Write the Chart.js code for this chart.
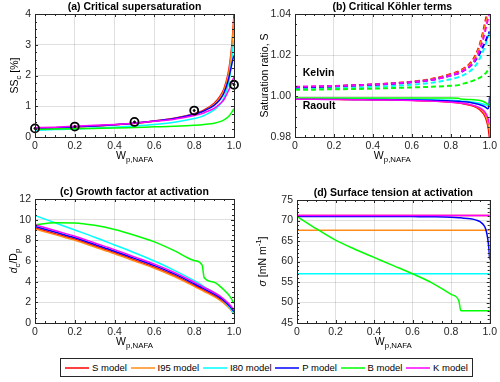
<!DOCTYPE html>
<html>
<head>
<meta charset="utf-8">
<script src="https://cdn.jsdelivr.net/npm/chart.js@4.4.1/dist/chart.umd.min.js"></script>
<style>
  body { margin: 0; background: #fff; font-family: "Liberation Sans", Arial, sans-serif; }
  #fig { position: relative; width: 500px; height: 382px; overflow: hidden; }
  #fig canvas { position: absolute; }
  #legend { position: absolute; left: 60px; top: 358px; width: 413px; height: 19px; box-sizing: border-box;
            border: 1px solid #262626; display: flex; align-items: center; justify-content: space-between;
            padding: 0 4px; font-size: 9.5px; color: #000; }
  #legend .item { display: flex; align-items: center; white-space: nowrap; }
  #legend svg { margin-right: 3px; }
</style>
</head>
<body>
<div id="fig">
  <canvas id="pa" width="250" height="170" style="left:0;top:0"></canvas>
  <canvas id="pb" width="250" height="170" style="left:250px;top:0"></canvas>
  <canvas id="pc" width="250" height="185" style="left:0;top:170px"></canvas>
  <canvas id="pd" width="250" height="185" style="left:250px;top:170px"></canvas>
  <div id="legend"></div>
</div>
<script>
// x values (particle mass fraction of NAFA)
const wp = [0, 0.1, 0.2, 0.3, 0.4, 0.5, 0.6, 0.7, 0.8, 0.84, 0.85, 0.9, 0.93, 0.95, 0.97, 0.98, 0.99, 0.995, 1];

const models = ['S model', 'I95 model', 'I80 model', 'P model', 'B model', 'K model'];
const modelColors = ['#ff0000', '#ff8c1a', '#00ffff', '#0000ff', '#00ff00', '#ff00ff'];

// (a) critical supersaturation [%]
const sscS   = [0.28, 0.30, 0.33, 0.36, 0.40, 0.45, 0.52, 0.61, 0.76, 0.85, 0.88, 1.10, 1.33, 1.58, 2.05, 2.45, 3.05, 3.50, 4.00];
const sscI95 = [0.27, 0.29, 0.32, 0.35, 0.39, 0.44, 0.51, 0.60, 0.74, 0.82, 0.85, 1.06, 1.28, 1.52, 1.97, 2.35, 2.95, 3.40, 3.85];
const sscI80 = [0.22, 0.24, 0.26, 0.29, 0.32, 0.36, 0.41, 0.48, 0.60, 0.67, 0.70, 0.88, 1.06, 1.28, 1.68, 2.02, 2.55, 2.90, 3.15];
const sscP   = [0.28, 0.30, 0.33, 0.36, 0.40, 0.45, 0.52, 0.60, 0.74, 0.82, 0.85, 1.03, 1.22, 1.44, 1.82, 2.10, 2.40, 2.55, 2.65];
const sscB   = [0.25, 0.26, 0.27, 0.28, 0.29, 0.31, 0.33, 0.35, 0.38, 0.40, 0.41, 0.45, 0.50, 0.56, 0.65, 0.72, 0.82, 0.87, 0.92];
const sscK   = [0.30, 0.32, 0.35, 0.38, 0.41, 0.45, 0.51, 0.58, 0.70, 0.76, 0.79, 0.93, 1.08, 1.22, 1.48, 1.62, 1.80, 1.88, 1.95];
const obsWp  = [0, 0.2, 0.5, 0.8, 1];
const obsSsc = [0.28, 0.34, 0.49, 0.86, 1.70];

// (b) Kelvin (dashed) and Raoult (solid) terms at the critical point
const kelS   = [1.0043, 1.0045, 1.0048, 1.0052, 1.0056, 1.0062, 1.0070, 1.0083, 1.0107, 1.0120, 1.0125, 1.0160, 1.0205, 1.0255, 1.0330, 1.0375, 1.0410, 1.0430, 1.0450];
const kelI95 = [1.0042, 1.0044, 1.0047, 1.0051, 1.0055, 1.0061, 1.0069, 1.0081, 1.0104, 1.0116, 1.0121, 1.0154, 1.0196, 1.0244, 1.0315, 1.0355, 1.0390, 1.0405, 1.0420];
const kelI80 = [1.0034, 1.0036, 1.0038, 1.0041, 1.0045, 1.0049, 1.0055, 1.0064, 1.0082, 1.0092, 1.0095, 1.0122, 1.0152, 1.0185, 1.0228, 1.0255, 1.0285, 1.0295, 1.0305];
const kelP   = [1.0042, 1.0044, 1.0047, 1.0051, 1.0055, 1.0060, 1.0067, 1.0078, 1.0100, 1.0111, 1.0115, 1.0145, 1.0178, 1.0210, 1.0250, 1.0270, 1.0295, 1.0305, 1.0315];
const kelB   = [1.0030, 1.0031, 1.0033, 1.0034, 1.0036, 1.0039, 1.0042, 1.0045, 1.0050, 1.0053, 1.0056, 1.0070, 1.0081, 1.0090, 1.0103, 1.0112, 1.0125, 1.0133, 1.0140];
const kelK   = [1.0045, 1.0047, 1.0049, 1.0052, 1.0056, 1.0061, 1.0068, 1.0078, 1.0100, 1.0112, 1.0116, 1.0148, 1.0185, 1.0228, 1.0290, 1.0330, 1.0370, 1.0385, 1.0400];
const raoS   = [0.9985, 0.9985, 0.9984, 0.9983, 0.9982, 0.9981, 0.9979, 0.9976, 0.9970, 0.9966, 0.9964, 0.9955, 0.9945, 0.9932, 0.9910, 0.9890, 0.9855, 0.9825, 0.9780];
const raoI95 = [0.9985, 0.9985, 0.9984, 0.9983, 0.9982, 0.9981, 0.9979, 0.9976, 0.9971, 0.9967, 0.9966, 0.9958, 0.9949, 0.9938, 0.9920, 0.9903, 0.9875, 0.9850, 0.9830];
const raoI80 = [0.9986, 0.9986, 0.9986, 0.9985, 0.9985, 0.9984, 0.9983, 0.9982, 0.9979, 0.9977, 0.9976, 0.9972, 0.9968, 0.9965, 0.9960, 0.9957, 0.9955, 0.9956, 0.9960];
const raoP   = [0.9985, 0.9985, 0.9984, 0.9983, 0.9983, 0.9982, 0.9981, 0.9979, 0.9976, 0.9974, 0.9973, 0.9968, 0.9962, 0.9957, 0.9950, 0.9945, 0.9938, 0.9945, 1.0000];
const raoB   = [0.9990, 0.9990, 0.9990, 0.9990, 0.9990, 0.9990, 0.9990, 0.9990, 0.9990, 0.9989, 0.9985, 0.9983, 0.9981, 0.9978, 0.9972, 0.9967, 0.9960, 0.9958, 0.9962];
const raoK   = [0.9984, 0.9984, 0.9983, 0.9982, 0.9981, 0.9980, 0.9978, 0.9975, 0.9970, 0.9967, 0.9966, 0.9958, 0.9950, 0.9942, 0.9928, 0.9915, 0.9895, 0.9878, 0.9860];

// (c) growth factor at activation, dc/Dp
const gfS   = [9.20, 8.65, 8.10, 7.45, 6.80, 6.10, 5.40, 4.60, 3.65, 3.25, 3.15, 2.65, 2.30, 2.00, 1.65, 1.45, 1.20, 1.05, 0.95];
const gfI95 = [9.10, 8.55, 8.00, 7.35, 6.70, 6.00, 5.30, 4.50, 3.55, 3.15, 3.05, 2.55, 2.20, 1.90, 1.55, 1.35, 1.10, 0.98, 0.88];
const gfI80 = [10.40, 9.70, 9.00, 8.30, 7.55, 6.80, 6.00, 5.10, 4.10, 3.65, 3.50, 2.95, 2.50, 2.15, 1.70, 1.45, 1.20, 1.05, 0.90];
const gfP   = [9.35, 8.80, 8.25, 7.60, 6.95, 6.25, 5.55, 4.75, 3.80, 3.40, 3.30, 2.80, 2.45, 2.15, 1.80, 1.60, 1.35, 1.22, 1.10];
const gfB   = [9.50, 9.70, 9.68, 9.45, 9.05, 8.50, 7.85, 7.00, 6.05, 5.60, 4.40, 3.95, 3.55, 3.20, 2.80, 2.55, 2.25, 2.05, 1.90];
const gfK   = [9.50, 8.95, 8.40, 7.75, 7.10, 6.40, 5.70, 4.90, 3.95, 3.55, 3.45, 2.95, 2.60, 2.30, 1.95, 1.75, 1.50, 1.38, 1.25];

// (d) surface tension at activation [mN m-1]
const stS   = [71.2, 71.2, 71.2, 71.2, 71.2, 71.2, 71.2, 71.2, 71.2, 71.2, 71.2, 71.2, 71.2, 71.2, 71.2, 71.2, 71.2, 71.2, 71.2];
const stI95 = [67.6, 67.6, 67.6, 67.6, 67.6, 67.6, 67.6, 67.6, 67.6, 67.6, 67.6, 67.6, 67.6, 67.6, 67.6, 67.6, 67.6, 67.6, 67.6];
const stI80 = [57.0, 57.0, 57.0, 57.0, 57.0, 57.0, 57.0, 57.0, 57.0, 57.0, 57.0, 57.0, 57.0, 57.0, 57.0, 57.0, 57.0, 57.0, 57.0];
const stP   = [71.0, 71.0, 71.0, 71.0, 71.0, 71.0, 70.95, 70.9, 70.8, 70.7, 70.65, 70.4, 70.1, 69.7, 68.8, 67.8, 65.5, 63.5, 60.5];
const stB   = [71.0, 68.0, 65.2, 63.0, 61.0, 59.0, 57.0, 54.8, 52.0, 50.4, 48.0, 48.0, 48.0, 48.0, 48.0, 48.0, 48.0, 48.0, 48.0];
const stK   = [71.2, 71.2, 71.2, 71.2, 71.2, 71.2, 71.2, 71.2, 71.2, 71.2, 71.2, 71.2, 71.2, 71.2, 71.2, 71.2, 71.2, 71.2, 71.2];

const FONT = '"Liberation Sans", Arial, Helvetica, sans-serif';
const INK = '#262626';

function pts(xs, ys) { return xs.map((x, i) => ({ x: x, y: ys[i] })); }

function lines(series, extra) {
  // reversed so that the K model ends up drawn on top, like MATLAB
  return series.map((ys, i) => Object.assign({
    label: models[i], data: pts(wp, ys), borderColor: modelColors[i],
    borderWidth: 1.5, pointRadius: 0, fill: false, cubicInterpolationMode: 'monotone'
  }, extra || {})).reverse();
}

function setFont(ctx, size, bold, italic) {
  ctx.font = (italic ? 'italic ' : '') + (bold ? 'bold ' : '') + size + 'px ' + FONT;
}

// text with sub/superscripts, centred at (x,y), optionally rotated
function drawRich(ctx, parts, x, y, rot, size, bold) {
  const sz = p => (p.sub || p.sup) ? size * 0.75 : size;
  let total = 0;
  parts.forEach(p => { setFont(ctx, sz(p), bold, p.it); total += ctx.measureText(p.t).width; });
  ctx.save();
  ctx.translate(x, y);
  ctx.rotate(rot || 0);
  ctx.textBaseline = 'middle';
  ctx.textAlign = 'left';
  ctx.fillStyle = '#000';
  let cx = -total / 2;
  parts.forEach(p => {
    setFont(ctx, sz(p), bold, p.it);
    const dy = p.sub ? size * 0.35 : (p.sup ? -size * 0.4 : 0);
    ctx.fillText(p.t, cx, dy);
    cx += ctx.measureText(p.t).width;
  });
  ctx.restore();
}

function tickList(min, max, minor, major) {
  const n = Math.round((max - min) / minor);
  const out = [];
  for (let i = 0; i <= n; i++) {
    const v = min + i * minor;
    const r = (v - min) / major;
    out.push([v, Math.abs(r - Math.round(r)) < 1e-6]);
  }
  return out;
}

function framePlugin(cfg) {
  return {
    id: 'frame',
    afterDraw(chart) {
      const ctx = chart.ctx, a = chart.chartArea, sx = chart.scales.x, sy = chart.scales.y;
      ctx.save();
      ctx.strokeStyle = INK;
      ctx.lineWidth = 1;
      ctx.beginPath();
      tickList(sx.min, sx.max, cfg.xMinor, cfg.xMajor).forEach(([v, major]) => {
        const px = Math.round(sx.getPixelForValue(v)) + 0.5, len = major ? 3 : 2;
        ctx.moveTo(px, a.bottom); ctx.lineTo(px, a.bottom - len);
        ctx.moveTo(px, a.top); ctx.lineTo(px, a.top + len);
      });
      tickList(sy.min, sy.max, cfg.yMinor, cfg.yMajor).forEach(([v, major]) => {
        const py = Math.round(sy.getPixelForValue(v)) + 0.5, len = major ? 3 : 2;
        ctx.moveTo(a.left, py); ctx.lineTo(a.left + len, py);
        ctx.moveTo(a.right, py); ctx.lineTo(a.right - len, py);
      });
      ctx.stroke();
      ctx.strokeRect(Math.round(a.left) + 0.5, Math.round(a.top) + 0.5,
                     Math.round(a.right - a.left), Math.round(a.bottom - a.top));

      const cxm = (a.left + a.right) / 2, cym = (a.top + a.bottom) / 2;
      drawRich(ctx, [{ t: cfg.title }], cxm, a.top - 7, 0, 10.5, true);
      drawRich(ctx, cfg.xlabel, cxm, a.bottom + 19, 0, 10.5, false);
      drawRich(ctx, cfg.ylabel, cfg.ylabelX, cym, -Math.PI / 2, 10.5, false);
      (cfg.notes || []).forEach(n => {
        setFont(ctx, 10.5, true, false);
        ctx.fillStyle = '#000';
        ctx.textAlign = 'left';
        ctx.textBaseline = 'middle';
        ctx.fillText(n.text, sx.getPixelForValue(n.x), sy.getPixelForValue(n.y));
      });
      ctx.restore();
    }
  };
}

function makePanel(id, datasets, cfg) {
  const tickFont = { family: FONT, size: 10.5 };
  const grid = { color: 'rgba(0,0,0,0.12)', drawTicks: false, lineWidth: 1 };
  return new Chart(document.getElementById(id), {
    type: 'line',
    data: { datasets: datasets },
    options: {
      animation: false,
      responsive: false,
      events: [],
      layout: { padding: { top: cfg.top, right: cfg.right, left: 0, bottom: 0 } },
      plugins: { legend: { display: false }, tooltip: { enabled: false }, title: { display: false } },
      scales: {
        x: {
          type: 'linear', min: 0, max: 1,
          ticks: { stepSize: 0.2, padding: 3, font: tickFont, color: INK, maxRotation: 0, autoSkip: false },
          grid: grid, border: { display: false },
          afterFit: s => { s.height = cfg.xh; }
        },
        y: {
          type: 'linear', min: cfg.ymin, max: cfg.ymax,
          ticks: { stepSize: cfg.yMajor, padding: 4, font: tickFont, color: INK, autoSkip: false },
          grid: grid, border: { display: false },
          afterFit: s => { s.width = cfg.yw; }
        }
      }
    },
    plugins: [framePlugin(cfg)]
  });
}

const wpLabel = [{ t: 'W' }, { t: 'p,NAFA', sub: true }];

// (a)
const dsA = lines([sscS, sscI95, sscI80, sscP, sscB, sscK]);
dsA.unshift({
  label: 'observed', data: pts(obsWp, obsSsc), showLine: false, clip: false,
  pointRadius: 4, pointStyle: 'circle', borderColor: '#000', borderWidth: 1.8,
  backgroundColor: 'rgba(0,0,0,0)'
}, {
  label: 'observed centre', data: pts(obsWp, obsSsc), showLine: false, clip: false,
  pointRadius: 1, pointStyle: 'circle', borderColor: '#000', borderWidth: 1,
  backgroundColor: '#000'
});
makePanel('pa', dsA, {
  top: 14, right: 16, yw: 35, xh: 33, ymin: 0, ymax: 4, yMajor: 1, yMinor: 0.25,
  xMajor: 0.2, xMinor: 0.05, ylabelX: 15,
  title: '(a) Critical supersaturation', xlabel: wpLabel,
  ylabel: [{ t: 'SS' }, { t: 'c', sub: true }, { t: ' [%]' }]
});

// (b)
const dsB = lines([kelS, kelI95, kelI80, kelP, kelB, kelK], { borderDash: [5, 3], borderWidth: 2 })
  .concat(lines([raoS, raoI95, raoI80, raoP, raoB, raoK]));
makePanel('pb', dsB, {
  top: 14, right: 5, yw: 45, xh: 33, ymin: 0.98, ymax: 1.04, yMajor: 0.02, yMinor: 0.005,
  xMajor: 0.2, xMinor: 0.05, ylabelX: 15,
  title: '(b) Critical Köhler terms', xlabel: wpLabel,
  ylabel: [{ t: 'Saturation ratio, ' }, { t: 'S' }],
  notes: [{ text: 'Kelvin', x: 0.04, y: 1.0113 }, { text: 'Raoult', x: 0.04, y: 0.9953 }]
});

// (c)
makePanel('pc', lines([gfS, gfI95, gfI80, gfP, gfB, gfK]), {
  top: 29, right: 16, yw: 35, xh: 32, ymin: 0, ymax: 12, yMajor: 2, yMinor: 0.5,
  xMajor: 0.2, xMinor: 0.05, ylabelX: 14,
  title: '(c) Growth factor at activation', xlabel: wpLabel,
  ylabel: [{ t: 'd', it: true }, { t: 'c', sub: true }, { t: '/D' }, { t: 'p', sub: true }]
});

// (d)
makePanel('pd', lines([stS, stI95, stI80, stP, stB, stK]), {
  top: 30, right: 5, yw: 47, xh: 32, ymin: 45, ymax: 75, yMajor: 5, yMinor: 1,
  xMajor: 0.2, xMinor: 0.05, ylabelX: 13,
  title: '(d) Surface tension at activation', xlabel: wpLabel,
  ylabel: [{ t: 'σ', it: true }, { t: ' [mN m' }, { t: '-1', sup: true }, { t: ']' }]
});

// legend
const legend = document.getElementById('legend');
const SVGNS = 'http://www.w3.org/2000/svg';
models.forEach((m, i) => {
  const item = document.createElement('div');
  item.className = 'item';
  const svg = document.createElementNS(SVGNS, 'svg');
  svg.setAttribute('width', '24');
  svg.setAttribute('height', '4');
  const ln = document.createElementNS(SVGNS, 'line');
  ln.setAttribute('x1', '0'); ln.setAttribute('y1', '2');
  ln.setAttribute('x2', '24'); ln.setAttribute('y2', '2');
  ln.setAttribute('stroke', modelColors[i]);
  ln.setAttribute('stroke-width', '1.5');
  svg.appendChild(ln);
  item.appendChild(svg);
  item.appendChild(document.createTextNode(m));
  legend.appendChild(item);
});
</script>
</body>
</html>
